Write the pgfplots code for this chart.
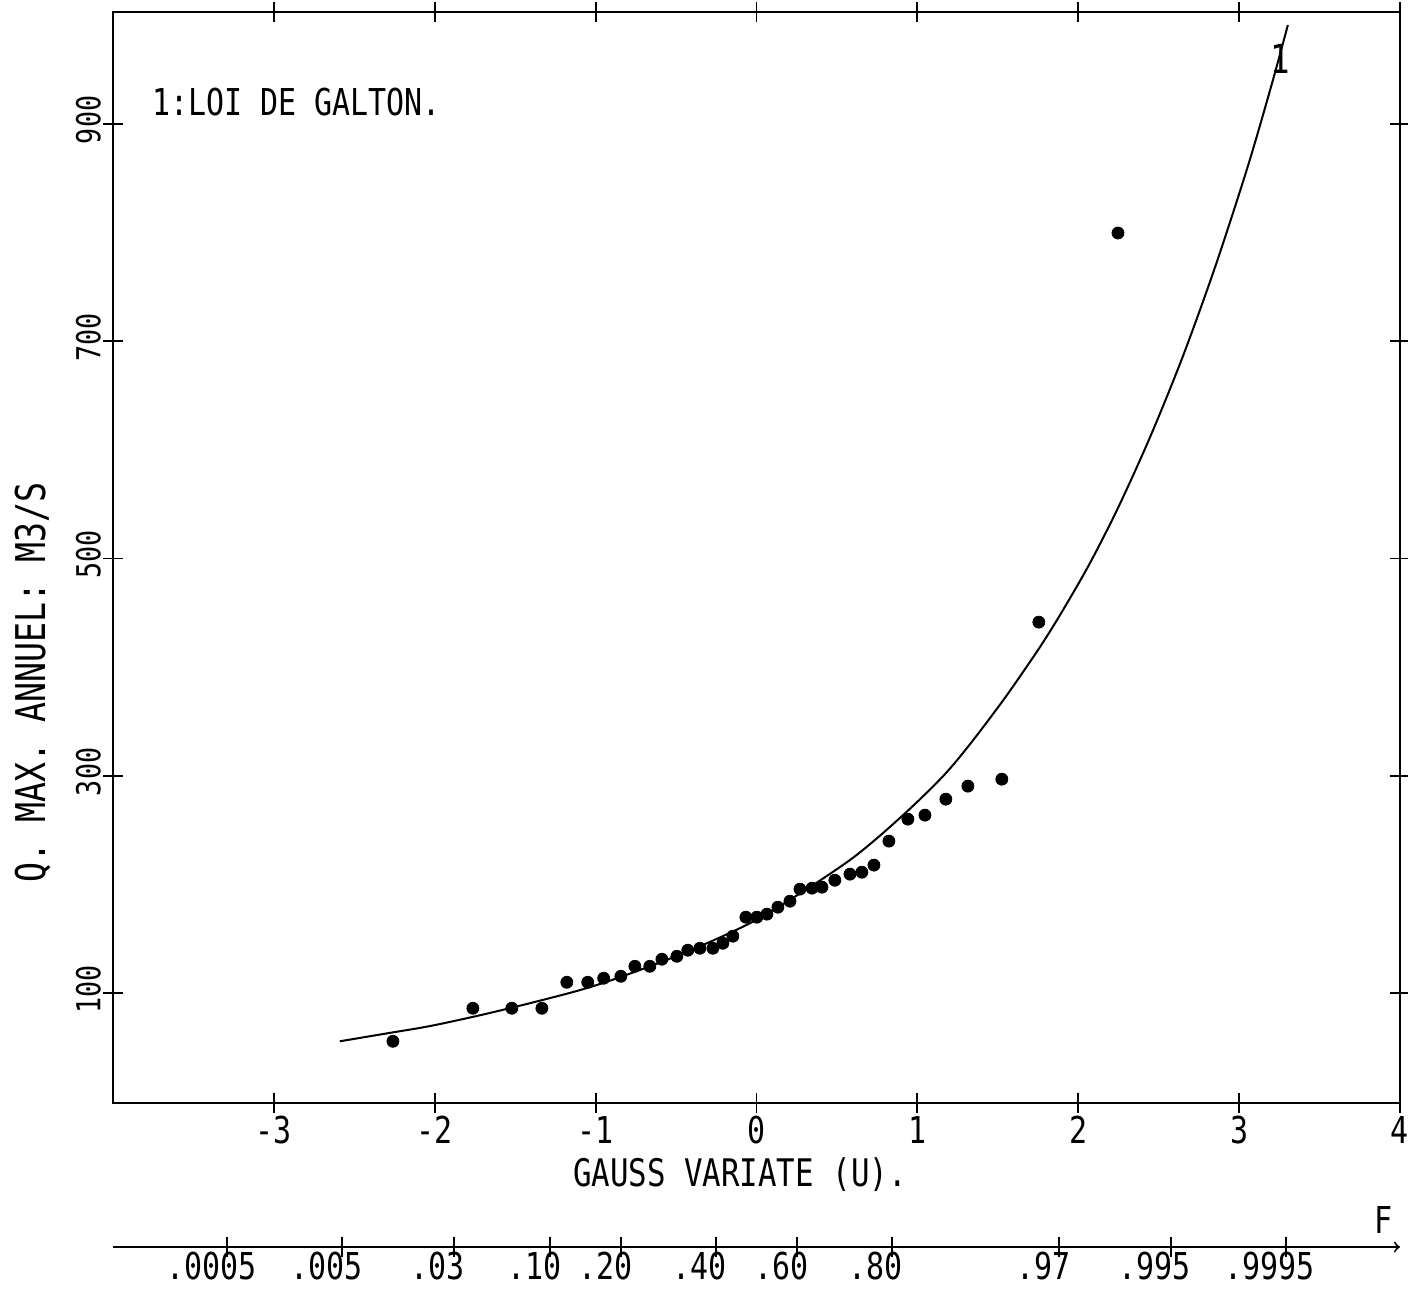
\documentclass[border=0pt]{standalone}
\usepackage{fontspec}
\usepackage{pgfplots}
\pgfplotsset{compat=1.18}
\newfontfamily\plotfont[FakeStretch=0.81]{DejaVu Sans Mono}

% 1 px of the reference = 0.5pt
\def\axW{643.5pt}
\def\axH{545.5pt}

\begin{document}
\begin{tikzpicture}
\useasboundingbox (-56.5pt,-93.5pt) rectangle (647.5pt,551.5pt);

% === axe principal : variable de Gauss ===
\begin{axis}[
    name=main,
    at={(0pt,0pt)}, anchor=south west,
    scale only axis,
    width=\axW, height=\axH,
    xmin=-4, xmax=4,
    ymin=-1, ymax=1003,
    clip=false,
    xtick={-3,-2,-1,0,1,2,3,4},
    xticklabels={-3,-2,-1,0,1,2,3,4},
    ytick={100,300,500,700,900},
    yticklabels={100,300,500,700,900},
    tick align=center,
    major tick length=10pt,
    tick style={black, line width=0.9pt},
    axis line style={black, line width=1pt},
    xticklabel style={font=\fontsize{18.5}{20}\plotfont, yshift=2pt},
    % rotated labels: local x points up, local y points left
    yticklabel style={rotate=90, anchor=south, font=\fontsize{16.5}{18}\plotfont, xshift=2pt, yshift=-2.5pt},
]

% courbe ajustee (loi de Galton)
\addplot[black, line width=1pt, smooth, no marks] coordinates {
    (-2.59,55.8) (-2.28,63.5) (-2.03,69.8) (-1.72,79.7) (-1.41,90.8)
    (-1.10,102.8) (-0.85,114.7) (-0.45,137) (-0.04,164.5) (0.27,191.8)
    (0.58,222.5) (0.786,247.4) (0.997,275.8) (1.183,303.5) (1.345,332.6)
    (1.55,373) (1.762,418.6) (1.905,452.6) (2.073,495.9) (2.25,547.5)
    (2.45,613) (2.65,686) (2.85,768) (3.05,859) (3.2,935) (3.303,991)
};

% debits maximaux annuels observes
\addplot[only marks, mark=*, mark size=3pt, black] coordinates {
    (-2.260,55.8) (-1.763,86.2) (-1.521,86.2) (-1.334,86.2) (-1.179,110.1)
    (-1.049,110.1) (-0.950,113.8) (-0.843,115.6) (-0.756,124.8) (-0.663,124.8)
    (-0.588,131.3) (-0.495,134.0) (-0.427,139.6) (-0.352,141.4) (-0.271,141.4)
    (-0.209,146.0) (-0.147,152.5) (-0.066,170.0) (0.002,170.0) (0.065,172.8)
    (0.133,179.2) (0.208,184.7) (0.270,195.8) (0.345,196.7) (0.407,197.6)
    (0.487,204.0) (0.581,209.6) (0.655,211.4) (0.730,217.9) (0.823,240.0)
    (0.941,260.2) (1.047,263.9) (1.177,278.6) (1.314,290.6) (1.525,297.0)
    (1.755,441.5) (2.247,799.6)
};

% textes
\node[anchor=west, inner sep=0pt, font=\fontsize{18.5}{20}\plotfont] at (axis cs:-3.758,920) {1:LOI DE GALTON.};
\node[inner sep=0pt, font=\fontsize{20}{22}\plotfont] at (axis cs:3.254,960) {1};
\node[rotate=90, inner sep=0pt, font=\fontsize{20.5}{22}\plotfont] at (axis cs:-4.50,386) {Q. MAX. ANNUEL: M3/S};
\node[inner sep=0pt, font=\fontsize{19}{21}\plotfont] at (axis cs:-0.103,-66.7) {GAUSS VARIATE (U).};
\node[inner sep=0pt, font=\fontsize{18.5}{20}\plotfont] at (axis cs:3.895,-108.6) {F};
\end{axis}

% === echelle des probabilites F ===
\begin{axis}[
    at={(0pt,-72pt)}, anchor=south west,
    scale only axis,
    width=\axW, height=1pt,
    xmin=-4, xmax=4,
    ymin=0, ymax=1,
    axis x line=bottom,
    axis y line=none,
    x axis line style={->, black, line width=1pt},
    xtick={-3.2905,-2.5758,-1.8808,-1.2816,-0.8416,-0.2533,0.2533,0.8416,1.8808,2.5758,3.2905},
    xticklabels={.0005,.005,.03,.10,.20,.40,.60,.80,.97,.995,.9995},
    tick align=center,
    major tick length=10pt,
    tick style={black, line width=0.9pt},
    xticklabel style={font=\fontsize{18.5}{20}\plotfont, yshift=6pt, xshift=-8pt},
]
\addplot[draw=none, forget plot] coordinates {(-4,0) (4,0)};
\end{axis}
\end{tikzpicture}
\end{document}
